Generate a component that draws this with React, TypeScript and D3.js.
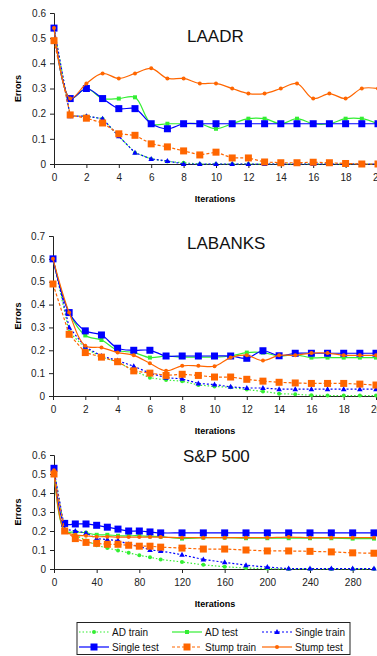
import { useEffect, useRef } from 'react';
import * as d3 from 'd3';

// iteration values for each data set
const laadrIters = [0, 1, 2, 3, 4, 5, 6, 7, 8, 9, 10, 11, 12, 13, 14, 15, 16, 17, 18, 19, 20];
const labanksIters = [0, 1, 2, 3, 4, 5, 6, 7, 8, 9, 10, 11, 12, 13, 14, 15, 16, 17, 18, 19, 20];
const spIters = [0, 10, 20, 30, 40, 50, 60, 70, 80, 90, 100, 120, 140, 160, 180, 200, 220, 240, 260, 280, 300];

// LAADR
const laadrAdTrain = [0.54, 0.19, 0.19, 0.18, 0.11, 0.045, 0.02, 0.01, 0.005, 0, 0, 0, 0, 0, 0, 0, 0, 0, 0, 0, 0];
const laadrAdTest = [0.54, 0.26, 0.3, 0.26, 0.26, 0.265, 0.16, 0.16, 0.16, 0.16, 0.14, 0.16, 0.18, 0.18, 0.16, 0.18, 0.16, 0.16, 0.18, 0.18, 0.16];
const laadrSingleTrain = [0.54, 0.19, 0.19, 0.18, 0.11, 0.045, 0.02, 0.012, 0, 0, 0, 0, 0, 0, 0, 0, 0, 0, 0, 0, 0];
const laadrSingleTest = [0.54, 0.26, 0.3, 0.26, 0.22, 0.22, 0.16, 0.14, 0.16, 0.16, 0.16, 0.16, 0.16, 0.16, 0.16, 0.16, 0.16, 0.16, 0.16, 0.16, 0.16];
const laadrStumpTrain = [0.49, 0.195, 0.182, 0.163, 0.12, 0.114, 0.08, 0.068, 0.052, 0.036, 0.047, 0.024, 0.024, 0.008, 0.005, 0.005, 0.007, 0.005, 0.002, 0, 0];
const laadrStumpTest = [0.54, 0.26, 0.32, 0.36, 0.34, 0.36, 0.38, 0.34, 0.34, 0.32, 0.32, 0.3, 0.28, 0.28, 0.3, 0.32, 0.26, 0.28, 0.26, 0.3, 0.3];

// LABANKS
const labanksAdTrain = [0.6, 0.28, 0.21, 0.17, 0.15, 0.11, 0.08, 0.07, 0.065, 0.048, 0.042, 0.038, 0.028, 0.02, 0.01, 0.008, 0.003, 0.002, 0.002, 0.002, 0.002];
const labanksAdTest = [0.6, 0.365, 0.265, 0.245, 0.2, 0.19, 0.168, 0.175, 0.17, 0.17, 0.17, 0.175, 0.19, 0.19, 0.175, 0.18, 0.168, 0.168, 0.168, 0.168, 0.168];
const labanksSingleTrain = [0.6, 0.3, 0.215, 0.175, 0.155, 0.13, 0.1, 0.08, 0.075, 0.055, 0.05, 0.04, 0.035, 0.035, 0.03, 0.03, 0.03, 0.03, 0.03, 0.03, 0.03];
const labanksSingleTest = [0.6, 0.365, 0.285, 0.267, 0.209, 0.2, 0.2, 0.175, 0.175, 0.175, 0.175, 0.175, 0.165, 0.198, 0.176, 0.187, 0.187, 0.187, 0.187, 0.187, 0.187];
const labanksStumpTrain = [0.49, 0.27, 0.19, 0.17, 0.15, 0.11, 0.1, 0.09, 0.095, 0.09, 0.083, 0.083, 0.073, 0.065, 0.06, 0.057, 0.055, 0.055, 0.055, 0.052, 0.048];
const labanksStumpTest = [0.6, 0.365, 0.22, 0.212, 0.19, 0.178, 0.143, 0.11, 0.132, 0.132, 0.13, 0.168, 0.178, 0.155, 0.178, 0.178, 0.188, 0.188, 0.178, 0.178, 0.178];

// S&P 500
const spAdTrain = [0.52, 0.2, 0.18, 0.15, 0.125, 0.11, 0.098, 0.085, 0.072, 0.062, 0.05, 0.037, 0.022, 0.012, 0.005, 0.002, 0, 0, 0, 0, 0];
const spAdTest = [0.52, 0.2, 0.195, 0.19, 0.18, 0.18, 0.175, 0.175, 0.175, 0.172, 0.17, 0.16, 0.165, 0.165, 0.162, 0.162, 0.162, 0.162, 0.162, 0.16, 0.16];
const spSingleTrain = [0.52, 0.21, 0.2, 0.19, 0.16, 0.155, 0.15, 0.13, 0.12, 0.1, 0.095, 0.075, 0.05, 0.035, 0.02, 0.01, 0.002, 0.002, 0.002, 0.002, 0.002];
const spSingleTest = [0.53, 0.24, 0.237, 0.237, 0.23, 0.22, 0.21, 0.2, 0.2, 0.195, 0.19, 0.19, 0.19, 0.19, 0.19, 0.19, 0.19, 0.19, 0.19, 0.19, 0.19];
const spStumpTrain = [0.5, 0.2, 0.16, 0.14, 0.135, 0.13, 0.13, 0.125, 0.12, 0.12, 0.115, 0.11, 0.105, 0.105, 0.1, 0.095, 0.095, 0.093, 0.09, 0.085, 0.083];
const spStumpTest = [0.52, 0.2, 0.18, 0.175, 0.17, 0.17, 0.168, 0.168, 0.168, 0.168, 0.168, 0.165, 0.165, 0.165, 0.165, 0.165, 0.168, 0.165, 0.165, 0.165, 0.165];

const seriesNames = ['AD train', 'AD test', 'Single train', 'Single test', 'Stump train', 'Stump test'];

const GREEN = '#33ee33';
const BLUE = '#0000ff';
const ORANGE = '#ff6600';

type Style = { color: string; dash: string | null; marker: 'dot' | 'smallSquare' | 'triangle' | 'square' };

const STYLES: Style[] = [
  { color: GREEN, dash: '1.5,2', marker: 'dot' },
  { color: GREEN, dash: null, marker: 'smallSquare' },
  { color: BLUE, dash: '2,2', marker: 'triangle' },
  { color: BLUE, dash: null, marker: 'square' },
  { color: ORANGE, dash: '3,2', marker: 'square' },
  { color: ORANGE, dash: null, marker: 'dot' },
];

const FONT = 'Liberation Sans, Arial, sans-serif';

interface Panel {
  title: string;
  titleX: number;
  titleY: number;
  iters: number[];
  series: number[][];
  xMax: number;
  xStep: number;
  yMax: number;
  left: number;
  right: number;
  top: number;
  bottom: number;
}

const panels: Panel[] = [
  {
    title: 'LAADR', titleX: 187, titleY: 42, iters: laadrIters,
    series: [laadrAdTrain, laadrAdTest, laadrSingleTrain, laadrSingleTest, laadrStumpTrain, laadrStumpTest],
    xMax: 20, xStep: 2, yMax: 0.6, left: 54, right: 378, top: 13, bottom: 164,
  },
  {
    title: 'LABANKS', titleX: 187, titleY: 249, iters: labanksIters,
    series: [labanksAdTrain, labanksAdTest, labanksSingleTrain, labanksSingleTest, labanksStumpTrain, labanksStumpTest],
    xMax: 20, xStep: 2, yMax: 0.7, left: 53, right: 376, top: 236, bottom: 396,
  },
  {
    title: 'S&P 500', titleX: 183, titleY: 462, iters: spIters,
    series: [spAdTrain, spAdTest, spSingleTrain, spSingleTest, spStumpTrain, spStumpTest],
    xMax: 300, xStep: 40, yMax: 0.6, left: 54, right: 374, top: 455, bottom: 569,
  },
];

function drawMarker(g: d3.Selection<SVGGElement, unknown, null, undefined>, kind: Style['marker'], color: string, x: number, y: number) {
  if (kind === 'square') {
    g.append('rect').attr('x', x - 3.5).attr('y', y - 3.5).attr('width', 7).attr('height', 7).attr('fill', color);
  } else if (kind === 'smallSquare') {
    g.append('rect').attr('x', x - 2).attr('y', y - 2).attr('width', 4).attr('height', 4).attr('fill', color);
  } else if (kind === 'triangle') {
    g.append('path').attr('d', `M${x},${y - 3}L${x + 2.8},${y + 2}L${x - 2.8},${y + 2}Z`).attr('fill', color);
  } else {
    g.append('circle').attr('cx', x).attr('cy', y).attr('r', 2).attr('fill', color);
  }
}

export default function App() {
  const svgRef = useRef<SVGSVGElement>(null);

  useEffect(() => {
    if (!svgRef.current) return;
    const svg = d3.select(svgRef.current);
    svg.selectAll('*').remove();

    panels.forEach((p) => {
      const x = d3.scaleLinear().domain([0, p.xMax]).range([p.left, p.right]);
      const y = d3.scaleLinear().domain([0, p.yMax]).range([p.bottom, p.top]);
      const g = svg.append('g');

      // y axis
      const yAxis = g.append('g').attr('transform', `translate(${p.left},0)`)
        .call(d3.axisLeft(y).ticks(Math.round(p.yMax * 10)).tickSize(4).tickPadding(4).tickFormat((d) => (+d === 0 ? '0' : d3.format('.1f')(+d))));
      yAxis.select('.domain').attr('stroke', '#222');
      yAxis.selectAll('line').attr('stroke', '#222');
      yAxis.selectAll('text').attr('font-family', FONT).attr('font-size', 10).attr('fill', '#222');

      // x axis
      const xAxis = g.append('g').attr('transform', `translate(0,${p.bottom})`)
        .call(d3.axisBottom(x).tickValues(d3.range(0, p.xMax + 1, p.xStep)).tickSize(4).tickSizeOuter(0).tickPadding(6).tickFormat(d3.format('d')));
      xAxis.select('.domain').attr('stroke', '#222');
      xAxis.selectAll('line').attr('stroke', '#222');
      xAxis.selectAll('text').attr('font-family', FONT).attr('font-size', 10).attr('fill', '#222');

      g.append('text')
        .attr('x', p.titleX).attr('y', p.titleY)
        .attr('font-family', FONT).attr('font-size', 17).attr('fill', '#111')
        .text(p.title);

      g.append('text')
        .attr('transform', `translate(20.5,${(p.top + p.bottom) / 2}) rotate(-90)`)
        .attr('text-anchor', 'middle')
        .attr('font-family', FONT).attr('font-size', 9).attr('font-weight', 'bold')
        .text('Errors');

      g.append('text')
        .attr('x', 215).attr('y', p.bottom + 38)
        .attr('text-anchor', 'middle')
        .attr('font-family', FONT).attr('font-size', 9).attr('font-weight', 'bold')
        .text('Iterations');

      const plot = g.append('g');
      p.series.forEach((vals, si) => {
        const st = STYLES[si];
        const pts: [number, number][] = vals.map((v, i) => [x(p.iters[i]), y(v)]);
        const line = d3.line().curve(si % 2 === 1 ? d3.curveCatmullRom.alpha(0.5) : d3.curveLinear);
        plot.append('path')
          .attr('d', line(pts))
          .attr('fill', 'none')
          .attr('stroke', st.color)
          .attr('stroke-width', 1.2)
          .attr('stroke-dasharray', st.dash);
        const mg = plot.append('g');
        pts.forEach(([px, py]) => drawMarker(mg, st.marker, st.color, px, py));
      });
    });

    // legend
    const lg = svg.append('g');
    lg.append('rect').attr('x', 77).attr('y', 622.5).attr('width', 273).attr('height', 32)
      .attr('fill', 'white').attr('stroke', '#222');
    const cols = [79, 172, 262];
    seriesNames.forEach((name, i) => {
      const st = STYLES[i];
      const cx = cols[i % 3];
      const cy = i < 3 ? 632 : 647;
      lg.append('line').attr('x1', cx).attr('x2', cx + 30).attr('y1', cy).attr('y2', cy)
        .attr('stroke', st.color).attr('stroke-width', 1.2).attr('stroke-dasharray', st.dash);
      drawMarker(lg, st.marker, st.color, cx + 15, cy);
      lg.append('text').attr('x', cx + 33).attr('y', cy + 3.5)
        .attr('font-family', FONT).attr('font-size', 10).attr('fill', '#111')
        .text(name);
    });
  }, []);

  return (
    <svg ref={svgRef} width={377} height={656}
      style={{ position: 'absolute', left: 0, top: 0, background: 'white' }} />
  );
}
